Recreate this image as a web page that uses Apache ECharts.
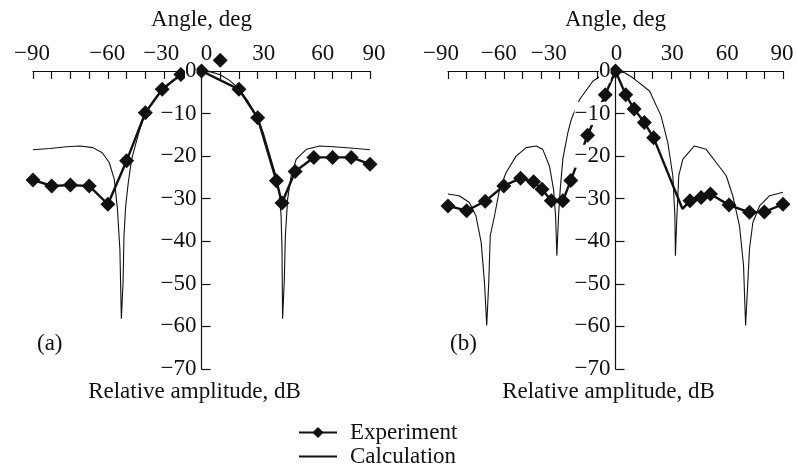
<!DOCTYPE html>
<html>
<head>
<meta charset="utf-8">
<script src="https://cdn.jsdelivr.net/npm/echarts@6/dist/echarts.min.js"></script>
<style>
html,body{margin:0;padding:0;background:#fff;}
#chart{width:797px;height:470px;}
</style>
</head>
<body>
<div id="chart"></div>
<script>
// ---------- data ----------
// Panel (a) experiment
const expA_angle = [-90, -80, -70, -60, -50, -40, -30, -21, -11, 0, 20, 30, 40, 43, 50, 60, 70, 80, 90];
const expA_db    = [-25.6, -27, -26.8, -27, -31.3, -21.1, -9.8, -4.3, -0.8, 0, -4.3, -11, -25.8, -31, -23.6, -20.3, -20.3, -20.3, -21.9];
// isolated experimental point in panel (a)
const expA_out_angle = [10];
const expA_out_db    = [2.5];
// Panel (a) calculation
const calcA_angle = [-90, -81, -72, -65, -58, -53, -49.3, -46.6, -44.9, -43.6, -42.8, -41.9, -41.4, -40.5, -39.1, -37.3, -33.5, -30, -25, -20, -15, -10, -5, 0,
                     5, 10, 15, 20, 25, 30, 33, 36, 38, 39.7, 41.5, 42.5, 43, 43.3, 44.2, 44.8, 46, 47.9, 50.6, 56, 63.2, 70.5, 79.5, 90];
const calcA_db    = [-18.5, -18.2, -17.8, -17.6, -18, -19.2, -21.5, -25.4, -32.4, -41.8, -58.2, -49.6, -38.7, -31.7, -26.2, -20.7, -14.5, -9.8, -6.6, -4.2, -2.3, -1, -0.25, 0,
                     -0.2, -0.9, -2.2, -4.2, -7.2, -11, -14.5, -19, -22, -24.6, -28.5, -34, -41.8, -58.2, -49.6, -38.7, -30.1, -24.6, -20.7, -18.4, -17.6, -17.8, -18.1, -18.5];
// Panel (b) experiment
const expB_angle = [-90, -80, -70, -60, -51, -44, -39.5, -34.5, -28.3, -24, -15, -5.5, 0, 5.5, 10, 15.5, 20.5, 36, 40, 46, 51, 61, 72, 80, 90];
const expB_db    = [-31.7, -32.8, -30.6, -27, -25.2, -26, -27.8, -30.5, -30.5, -25.7, -15.1, -5.6, 0, -5.6, -8.9, -12.1, -15.7, -32.4, -30.5, -29.7, -28.9, -31.5, -33.2, -33.1, -31.3];
const expB_bend  = [36];   // vertex without a marker
// Panel (b) calculation
const calcB_angle = [-90, -84, -78.5, -75, -72.2, -70.4, -69.2, -68.1, -67.3, -65, -62.3, -58.7, -53.4, -48, -42.6, -39.1, -35.5, -33.3, -32.2, -31.5, -30.6, -29.7, -28.3, -25.6, -23.8, -19.3, -12.2, -5, 0,
                     5, 9.3, 18.3, 24.5, 28.1, 30.8, 31.9, 32.2, 33, 34, 36.2, 42.4, 48.7, 54.1, 59.5, 63, 66.6, 68.8, 69.9, 71.1, 72, 73.8, 77.4, 82.8, 90];
const calcB_db    = [-28.9, -29.3, -30.9, -34, -40.2, -49.6, -59.8, -49.6, -38.7, -34, -27.8, -23.8, -20, -18, -17.6, -18.4, -22.3, -27.8, -34, -43.4, -34, -27.8, -20.7, -14.5, -11.4, -6.7, -2.4, -0.3, 0,
                     -0.4, -1.6, -4.7, -10.6, -16.8, -24.6, -34, -43.4, -34, -24.6, -20.7, -17.6, -18.4, -21.5, -24.6, -29.3, -36.3, -45.7, -59.8, -49.6, -41.8, -35.6, -31.7, -29.3, -28.5];

const angleTicks = [-90, -60, -30, 0, 30, 60, 90];
const dbTicks = [0, -10, -20, -30, -40, -50, -60, -70];
const panelLabels = ['(a)', '(b)'];
const legendNames = ['Experiment', 'Calculation'];
const xName = 'Angle, deg';
const yName = 'Relative amplitude, dB';

// ---------- helpers ----------
const FONT = '"Liberation Serif", "Times New Roman", serif';
const FS = 23;
const INK = '#111';
const zip = (a, b) => a.map((v, i) => [v, b[i]]);
const minus = v => (v < 0 ? '\u2212' + Math.abs(v) : String(v));

// layout (style only)
const grids = [
  {left: 33, top: 71, width: 337, height: 298},
  {left: 448, top: 71, width: 335, height: 298}
];
// per-label horizontal nudges so labels sit as in the original
const xShift = [
  {'-90': -1, '-60': 18, '-30': 16, '0': 5, '30': 6, '60': 9, '90': 4},
  {'-90': -7, '-60': -5, '-30': -11, '0': 1, '30': 1, '60': 0, '90': -1}
];

function xAxisFor(idx) {
  const rich = {};
  angleTicks.forEach((t, i) => {
    const d = xShift[idx][String(t)] || 0;
    rich['s' + i] = {
      fontFamily: FONT, fontSize: FS, color: INK,
      padding: d >= 0 ? [0, 0, 0, 2 * d] : [0, -2 * d, 0, 0]
    };
  });
  return {
    type: 'value', gridIndex: idx, position: 'top',
    min: -90, max: 90, interval: 10,
    name: xName, nameLocation: 'middle', nameGap: 40,
    nameTextStyle: {fontFamily: FONT, fontSize: FS, color: INK},
    axisLine: {onZero: true, lineStyle: {color: INK, width: 1.2}},
    axisTick: {inside: true, length: 8, lineStyle: {color: INK, width: 1.2}},
    splitLine: {show: false},
    axisLabel: {
      margin: 6,
      formatter: v => {
        const i = angleTicks.indexOf(v);
        return i < 0 ? '' : '{s' + i + '|' + minus(v) + '}';
      },
      rich: rich
    }
  };
}

function yAxisFor(idx) {
  // place the vertical axis at angle 0 (middle of the grid)
  const off = -grids[idx].width / 2;
  return {
    type: 'value', gridIndex: idx, min: -70, max: 0, interval: 10, z: 5,
    position: 'left', offset: off,
    name: yName, nameLocation: 'start', nameGap: 9,
    nameTextStyle: {fontFamily: FONT, fontSize: FS, color: INK, padding: [0, 14, 0, 0]},
    axisLine: {onZero: false, lineStyle: {color: INK, width: 1.2}},
    axisTick: {inside: true, length: 9, lineStyle: {color: INK, width: 1.2}},
    splitLine: {show: false},
    axisLabel: {
      margin: 5, fontFamily: FONT, fontSize: FS, color: INK,
      backgroundColor: '#fff',
      formatter: v => (dbTicks.indexOf(v) < 0 ? '' : minus(v))
    }
  };
}

function expSeries(idx, angle, db, bends) {
  return {
    name: legendNames[0], type: 'line', xAxisIndex: idx, yAxisIndex: idx,
    data: angle.map((a, i) => (bends && bends.indexOf(a) >= 0)
      ? {value: [a, db[i]], symbol: 'none'} : [a, db[i]]),
    symbol: 'diamond', symbolSize: 15, clip: false,
    lineStyle: {color: INK, width: 2.4},
    itemStyle: {color: INK, opacity: 1},
    z: 3
  };
}
function calcSeries(idx, angle, db) {
  return {
    name: legendNames[1], type: 'line', xAxisIndex: idx, yAxisIndex: idx,
    data: zip(angle, db), symbol: 'none', clip: false,
    lineStyle: {color: INK, width: 1.1},
    itemStyle: {color: INK},
    z: 2
  };
}

const option = {
  animation: false,
  backgroundColor: '#fff',
  textStyle: {fontFamily: FONT},
  grid: grids,
  xAxis: [xAxisFor(0), xAxisFor(1)],
  yAxis: [yAxisFor(0), yAxisFor(1)],
  legend: {
    orient: 'vertical', left: 293, top: 416, height: 54,
    itemWidth: 38, itemHeight: 14, itemGap: 1,
    data: [
      {name: legendNames[0]},
      {name: legendNames[1], itemStyle: {opacity: 0}}
    ],
    textStyle: {fontFamily: FONT, fontSize: FS, lineHeight: 23, color: INK, padding: [0, 0, 0, 8]}
  },
  graphic: [
    {type: 'text', left: 37, top: 332, style: {text: panelLabels[0], font: FS + 'px ' + FONT, fill: INK}},
    {type: 'text', left: 450, top: 332, style: {text: panelLabels[1], font: FS + 'px ' + FONT, fill: INK}}
  ],
  series: [
    expSeries(0, expA_angle, expA_db),
    {
      name: legendNames[0], type: 'scatter', xAxisIndex: 0, yAxisIndex: 0,
      data: zip(expA_out_angle, expA_out_db), symbol: 'diamond', symbolSize: 15,
      clip: false, itemStyle: {color: INK, opacity: 1}, z: 3
    },
    calcSeries(0, calcA_angle, calcA_db),
    expSeries(1, expB_angle, expB_db, expB_bend),
    calcSeries(1, calcB_angle, calcB_db)
  ]
};

const chart = echarts.init(document.getElementById('chart'), null, {renderer: 'canvas'});
chart.setOption(option);
</script>
</body>
</html>
